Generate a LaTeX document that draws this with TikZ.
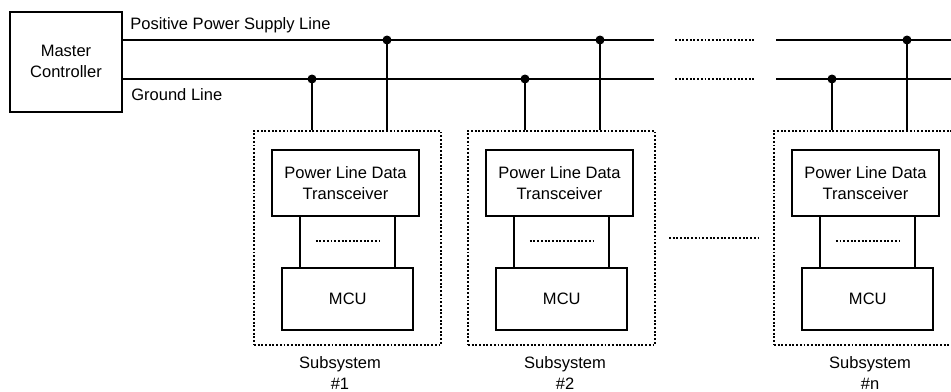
\documentclass[tikz,border=0pt]{standalone}
\usepackage{fontspec}
\setmainfont{Liberation Sans}
\usepackage{tikz}
\usetikzlibrary{positioning,calc}

\begin{document}
\begin{tikzpicture}[
  x=0.02cm, y=-0.02cm,
  every node/.style={font=\fontsize{9.4}{11.9}\selectfont},
  blk/.style={draw, line width=1.1pt, inner sep=0pt, align=center},
  subbox/.style={draw, line width=0.8pt, dash pattern=on 1.1pt off 1pt, minimum width=3.74cm, minimum height=4.28cm},
  trx/.style={blk, minimum width=2.94cm, minimum height=1.32cm},
  mcu/.style={blk, minimum width=2.62cm, minimum height=1.24cm},
  wire/.style={line width=1.1pt},
  dots/.style={line width=0.9pt, dash pattern=on 1.1pt off 1pt},
  jdot/.style={circle, fill, inner sep=0pt, minimum size=0.18cm},
  lbl/.style={inner sep=0pt, align=center}
]
\useasboundingbox (0,0) rectangle (951,392);

% master and bus lines
\node[blk, minimum width=2.24cm, minimum height=2cm] (master) at (66,61.7) {Master\\Controller};
\coordinate (pcut) at (654,40);
\coordinate (gcut) at (654,79);
\coordinate (pgapA) at (675,40);
\coordinate (pgapB) at (755,40);
\coordinate (ggapA) at (675,79);
\coordinate (ggapB) at (755,79);
\coordinate (pres) at (776,40);
\coordinate (gres) at (776,79);
\coordinate (pend) at (960,40);
\coordinate (gend) at (960,79);
\draw[wire] (master.east |- pcut) -- (pcut);
\draw[wire] (master.east |- gcut) -- (gcut);
\draw[dots] (pgapA) -- (pgapB);
\draw[dots] (ggapA) -- (ggapB);
\draw[wire] (pres) -- (pend);
\draw[wire] (gres) -- (gend);
\node[lbl, anchor=base west] (poslbl) at (130,30) {Positive Power Supply Line};
\node[lbl, anchor=base west] (gndlbl) at (131,100) {Ground Line};

% subsystem #1
\node[subbox] (sub1) at (347.5,238) {};
\node[trx] (trx1) at (345.5,183) {Power Line Data\\Transceiver};
\node[mcu] (mcu1) at (347.8,299) {MCU};
\draw[wire] ([xshift=0.38cm]mcu1.north west) -- ([xshift=0.38cm]mcu1.north west |- trx1.south);
\draw[wire] ([xshift=-0.38cm]mcu1.north east) -- ([xshift=-0.38cm]mcu1.north east |- trx1.south);
\draw[dots] ([xshift=-0.64cm,yshift=0.52cm]mcu1.north) -- ++(1.28cm,0);
\node[jdot] (g1) at (312,79) {};
\node[jdot] (p1) at (387,40) {};
\draw[wire] (g1.center) -- (g1.center |- sub1.north);
\draw[wire] (p1.center) -- (p1.center |- sub1.north);
\node[lbl] (lab1) at (340,373) {Subsystem\\\#1};

% subsystem #2
\node[subbox] (sub2) at (561.5,238) {};
\node[trx] (trx2) at (559.5,183) {Power Line Data\\Transceiver};
\node[mcu] (mcu2) at (561.8,299) {MCU};
\draw[wire] ([xshift=0.38cm]mcu2.north west) -- ([xshift=0.38cm]mcu2.north west |- trx2.south);
\draw[wire] ([xshift=-0.38cm]mcu2.north east) -- ([xshift=-0.38cm]mcu2.north east |- trx2.south);
\draw[dots] ([xshift=-0.64cm,yshift=0.52cm]mcu2.north) -- ++(1.28cm,0);
\node[jdot] (g2) at (525,79) {};
\node[jdot] (p2) at (600,40) {};
\draw[wire] (g2.center) -- (g2.center |- sub2.north);
\draw[wire] (p2.center) -- (p2.center |- sub2.north);
\node[lbl] (lab2) at (565,373) {Subsystem\\\#2};

% gap between #2 and #n
\coordinate (sgapA) at (669,238);
\coordinate (sgapB) at (760,238);
\draw[dots] (sgapA) -- (sgapB);

% subsystem #n
\node[subbox] (subn) at (867.5,238) {};
\node[trx] (trxn) at (865.5,183) {Power Line Data\\Transceiver};
\node[mcu] (mcun) at (867.8,299) {MCU};
\draw[wire] ([xshift=0.38cm]mcun.north west) -- ([xshift=0.38cm]mcun.north west |- trxn.south);
\draw[wire] ([xshift=-0.38cm]mcun.north east) -- ([xshift=-0.38cm]mcun.north east |- trxn.south);
\draw[dots] ([xshift=-0.64cm,yshift=0.52cm]mcun.north) -- ++(1.28cm,0);
\node[jdot] (gn) at (832,79) {};
\node[jdot] (pn) at (907,40) {};
\draw[wire] (gn.center) -- (gn.center |- subn.north);
\draw[wire] (pn.center) -- (pn.center |- subn.north);
\node[lbl] (labn) at (870,373) {Subsystem\\\#n};
\end{tikzpicture}
\end{document}
